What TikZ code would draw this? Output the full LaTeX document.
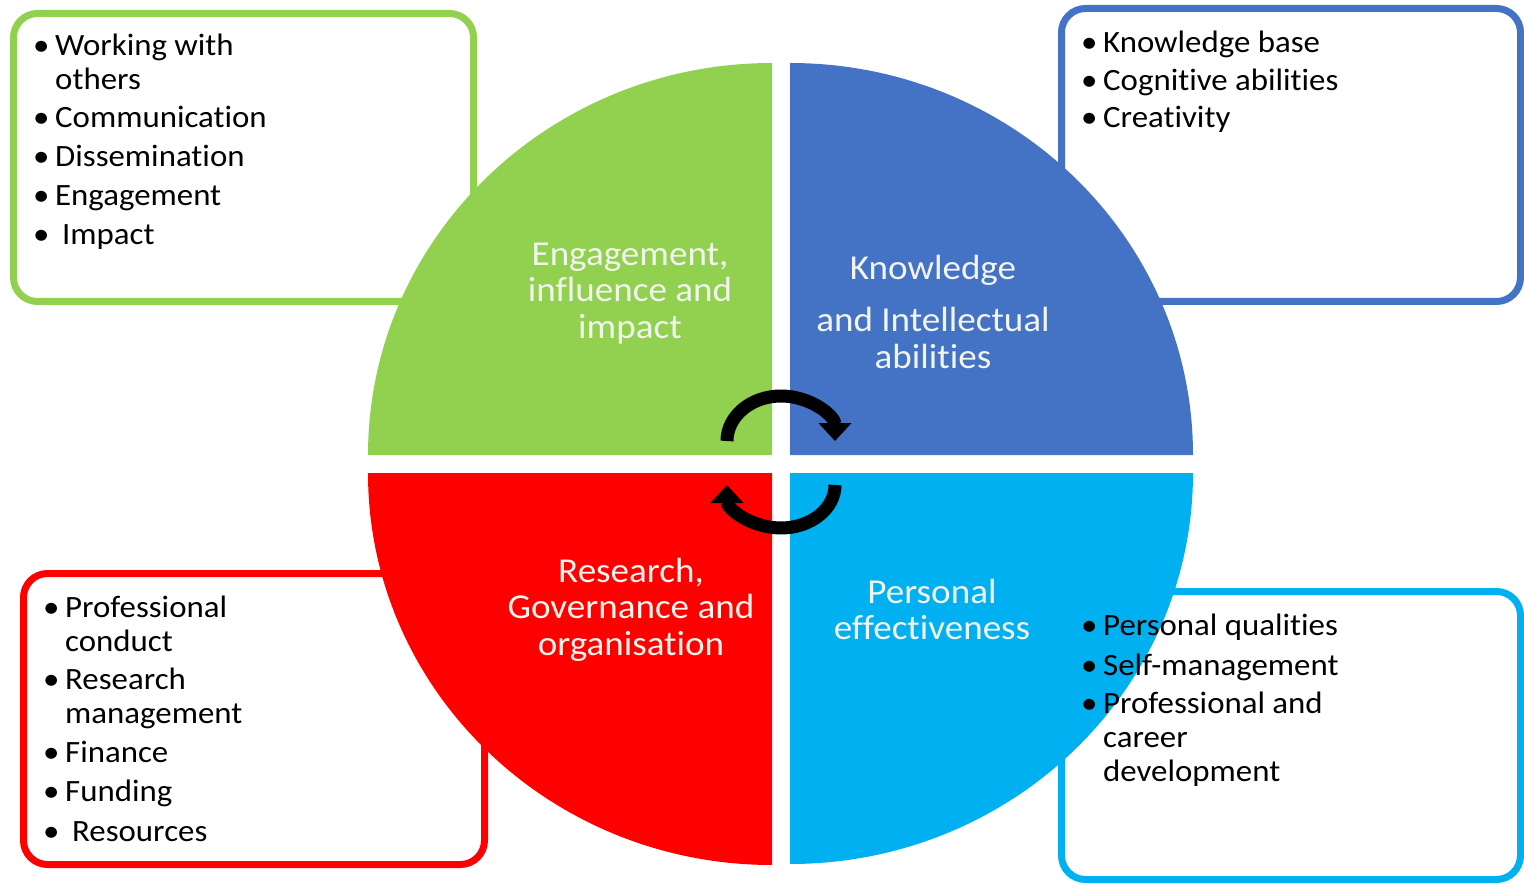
\documentclass[tikz,border=0pt]{standalone}
\usepackage{fontspec}
\setmainfont{Carlito}[FakeStretch=1.06, Ligatures={NoCommon}]
\usetikzlibrary{arrows.meta}

\definecolor{qgreen}{HTML}{92D050}
\definecolor{qblue}{HTML}{4472C4}
\definecolor{qred}{HTML}{FF0000}
\definecolor{qcyan}{HTML}{00B0F0}
\definecolor{labelwhite}{HTML}{F2F4EE}

% list helpers: bullet item and continuation line with hanging indent
\newcommand{\itm}[1]{\makebox[22pt][l]{\textbullet}#1}
\newcommand{\cont}[1]{\hspace*{22pt}#1}
\newcommand{\liststrut}{\rule{0pt}{25pt}}
\newcommand{\labelstrut}{\rule{0pt}{28pt}}

\tikzset{
  framebox/.style={line width=7pt, rounded corners=24pt, fill=white},
  listtext/.style={anchor=north west, inner sep=0pt, align=left,
    font=\fontsize{31}{34}\selectfont, text=black},
  quadlabel/.style={anchor=north, inner sep=0pt, align=center,
    font=\fontsize{35}{36.5}\selectfont, text=labelwhite},
  cyclearrow/.style={line width=13pt, -{Triangle[length=18pt,width=32pt]}}
}

\begin{document}
\begin{tikzpicture}[x=1pt, y=-1pt]
\useasboundingbox[fill=white] (0,0) rectangle (1524,885);

% outer framed boxes
\draw[framebox, draw=qgreen] (13.5,13.5) rectangle (473.5,301.5);
\draw[framebox, draw=qblue]  (1061.5,8.5) rectangle (1520.5,301.5);
\draw[framebox, draw=qred]   (23.5,573.5) rectangle (484.5,864.5);
\draw[framebox, draw=qcyan]  (1061.5,591.5) rectangle (1520.5,879.5);

% four quarter discs
\coordinate (cgreen) at (772,455);
\coordinate (cblue)  at (790,455);
\coordinate (cred)   at (772,473);
\coordinate (ccyan)  at (790,473);
\fill[qgreen] (cgreen) -- ++(-404,0) arc[start angle=180, end angle=270, x radius=404, y radius=392] -- cycle;
\fill[qblue]  (cblue) -- ++(0,-392) arc[start angle=270, end angle=360, x radius=403, y radius=392] -- cycle;
\fill[qred]   (cred) -- ++(-404,0) arc[start angle=180, end angle=90, x radius=404, y radius=392] -- cycle;
\fill[qcyan]  (ccyan) -- ++(403,0) arc[start angle=0, end angle=90, x radius=403, y radius=391] -- cycle;

% circular arrows in the middle
\coordinate (topstart) at (727,441);
\coordinate (botstart) at (835,485);
\draw[cyclearrow] (topstart) arc[start angle=180, end angle=360, x radius=54, y radius=45];
\draw[cyclearrow] (botstart) arc[start angle=0, end angle=180, x radius=54, y radius=43];

% quadrant titles
\node[quadlabel] (lgreen) at (630,237) {\labelstrut Engagement,\\influence and\\impact};
\node[quadlabel] (lblue) at (933,251) {\labelstrut Knowledge\\[16pt]and Intellectual\\abilities};
\node[quadlabel] (lred) at (631,554) {\labelstrut Research,\\Governance and\\organisation};
\node[quadlabel] (lcyan) at (932,575) {\labelstrut Personal\\effectiveness};

% bullet lists
\node[listtext] (listgreen) at (33,30) {\liststrut\itm{Working with}\\
  \cont{others}\\[4pt]
  \itm{Communication}\\[5pt]
  \itm{Dissemination}\\[5pt]
  \itm{Engagement}\\[5pt]
  \itm{\hspace*{7pt}Impact}};

\node[listtext] (listblue) at (1081,27) {\liststrut\itm{Knowledge base}\\[4.5pt]
  \itm{Cognitive abilities}\\[3pt]
  \itm{Creativity}};

\node[listtext] (listred) at (43,592) {\liststrut\itm{Professional}\\
  \cont{conduct}\\[4pt]
  \itm{Research}\\
  \cont{management}\\[5pt]
  \itm{Finance}\\[5pt]
  \itm{Funding}\\[6pt]
  \itm{\hspace*{7pt}Resources}};

\node[listtext] (listcyan) at (1081,610) {\liststrut\itm{Personal qualities}\\[6pt]
  \itm{Self-management}\\[4pt]
  \itm{Professional and}\\
  \cont{career}\\
  \cont{development}};
\end{tikzpicture}
\end{document}
